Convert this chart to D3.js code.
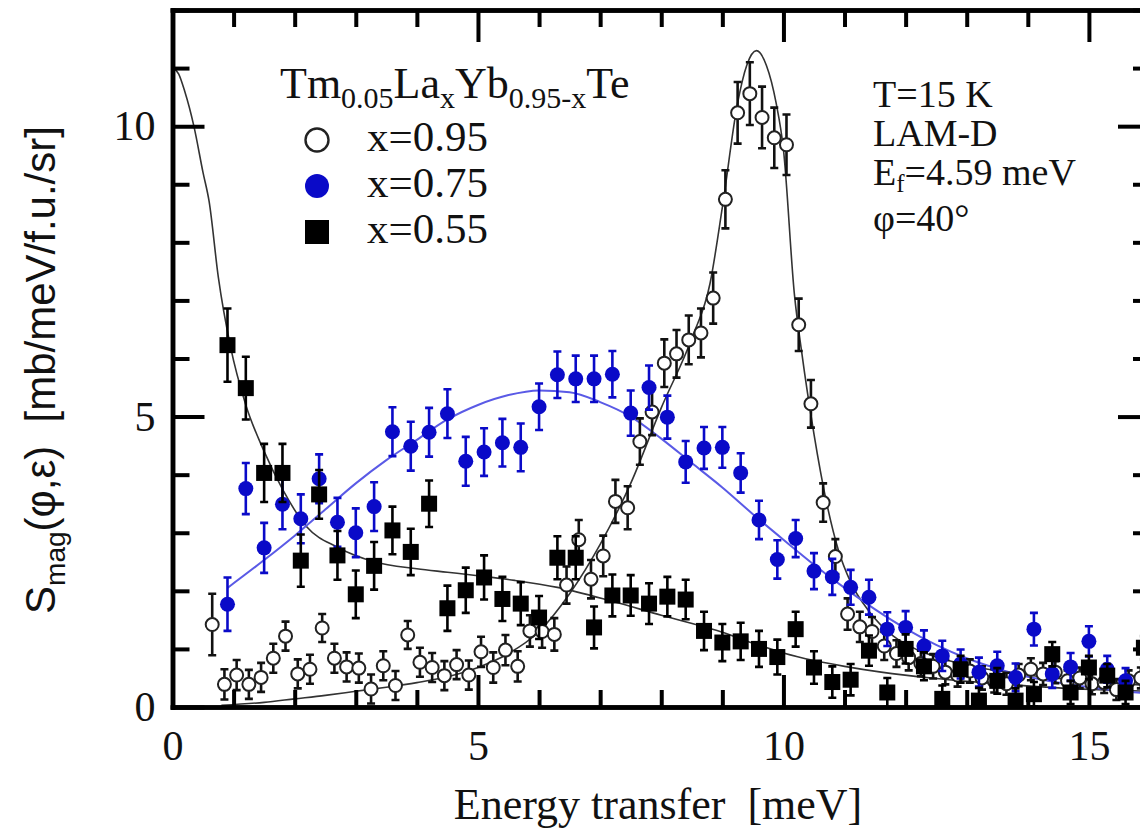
<!DOCTYPE html>
<html>
<head>
<meta charset="utf-8">
<script src="https://cdn.jsdelivr.net/npm/d3@7/dist/d3.min.js"></script>
<style>
  body { margin: 0; background: #fff; }
  text { font-family: "Liberation Serif", "Times New Roman", serif; fill: #111; }
</style>
</head>
<body>
<div id="chart"></div>
<script>
// Tm0.05LaxYb0.95-xTe, S_mag vs energy transfer (LAM-D, T=15 K)

// x=0.95 (open circles)
var circX = [0.65, 0.85, 1.05, 1.25, 1.45, 1.65, 1.85, 2.05, 2.25, 2.45,
             2.65, 2.85, 3.05, 3.25, 3.45, 3.65, 3.85, 4.05, 4.25, 4.45,
             4.65, 4.85, 5.05, 5.25, 5.45, 5.65, 5.85, 6.05, 6.25, 6.45,
             6.65, 6.85, 7.05, 7.25, 7.45, 7.65, 7.85, 8.05, 8.25, 8.45,
             8.65, 8.85, 9.05, 9.25, 9.45, 9.65, 9.85, 10.05, 10.25, 10.45,
             10.65, 10.85, 11.05, 11.25, 11.45, 11.65, 11.85, 12.05, 12.25, 12.45,
             12.65, 12.85, 13.05, 13.25, 13.45, 13.65, 13.85, 14.05, 14.25, 14.45,
             14.65, 14.85, 15.05, 15.25, 15.45, 15.65, 15.85];
var circY = [1.42, 0.39, 0.55, 0.39, 0.51, 0.84, 1.22, 0.57, 0.65, 1.36,
             0.84, 0.69, 0.67, 0.31, 0.71, 0.37, 1.24, 0.77, 0.68, 0.54,
             0.73, 0.55, 0.95, 0.68, 0.98, 0.70, 1.31, 1.30, 1.25, 2.10,
             2.88, 2.20, 2.60, 3.54, 3.43, 4.57, 5.08, 5.92, 6.08, 6.32,
             6.44, 7.04, 8.74, 10.23, 10.56, 10.15, 9.80, 9.68, 6.58, 5.22,
             3.52, 2.59, 1.60, 1.38, 1.30, 1.05, 0.92, 0.85, 0.75, 0.70,
             0.60, 0.55, 0.62, 0.50, 0.45, 0.40, 0.55, 0.65, 0.57, 0.60,
             0.45, 0.50, 0.40, 0.42, 0.30, 0.45, 0.50];
var circErr = [0.53, 0.26, 0.26, 0.25, 0.25, 0.25, 0.25, 0.25, 0.25, 0.24,
               0.25, 0.25, 0.25, 0.25, 0.25, 0.25, 0.24, 0.25, 0.25, 0.25,
               0.25, 0.25, 0.26, 0.26, 0.26, 0.26, 0.27, 0.28, 0.28, 0.32,
               0.34, 0.33, 0.35, 0.37, 0.37, 0.40, 0.40, 0.41, 0.41, 0.42,
               0.42, 0.44, 0.50, 0.53, 0.54, 0.53, 0.52, 0.52, 0.45, 0.41,
               0.33, 0.30, 0.27, 0.26, 0.25, 0.24, 0.23, 0.22, 0.22, 0.21,
               0.21, 0.20, 0.20, 0.20, 0.20, 0.19, 0.19, 0.19, 0.19, 0.19,
               0.18, 0.18, 0.18, 0.18, 0.18, 0.18, 0.18];

// x=0.75 (blue filled circles)
var blueX = [0.9, 1.2, 1.5, 1.8, 2.1, 2.4, 2.7, 3.0, 3.3, 3.6,
             3.9, 4.2, 4.5, 4.8, 5.1, 5.4, 5.7, 6.0, 6.3, 6.6,
             6.9, 7.2, 7.5, 7.8, 8.1, 8.4, 8.7, 9.0, 9.3, 9.6,
             9.9, 10.2, 10.5, 10.8, 11.1, 11.4, 11.7, 12.0, 12.3, 12.6,
             12.9, 13.2, 13.5, 13.8, 14.1, 14.4, 14.7, 15.0, 15.3, 15.6];
var blueY = [1.77, 3.76, 2.74, 3.49, 3.24, 3.93, 3.18, 3.00, 3.45, 4.74,
             4.49, 4.73, 5.05, 4.23, 4.39, 4.55, 4.47, 5.17, 5.72, 5.65,
             5.65, 5.73, 5.06, 5.50, 4.99, 4.22, 4.46, 4.47, 4.03, 3.22,
             2.54, 2.90, 2.34, 2.24, 2.06, 1.89, 1.34, 1.37, 1.05, 0.88,
             0.74, 0.60, 0.71, 0.51, 1.34, 0.57, 0.69, 1.13, 0.65, 0.45];
var blueErr = [0.46, 0.44, 0.43, 0.43, 0.42, 0.42, 0.42, 0.42, 0.42, 0.42,
               0.42, 0.42, 0.42, 0.42, 0.41, 0.41, 0.41, 0.40, 0.40, 0.40,
               0.40, 0.40, 0.39, 0.38, 0.37, 0.36, 0.36, 0.35, 0.34, 0.33,
               0.33, 0.32, 0.31, 0.31, 0.30, 0.30, 0.29, 0.28, 0.27, 0.26,
               0.25, 0.25, 0.24, 0.24, 0.28, 0.24, 0.24, 0.26, 0.23, 0.22];

// x=0.55 (black squares)
var sqX = [0.9, 1.2, 1.5, 1.8, 2.1, 2.4, 2.7, 3.0, 3.3, 3.6,
           3.9, 4.2, 4.5, 4.8, 5.1, 5.4, 5.7, 6.0, 6.3, 6.6,
           6.9, 7.2, 7.5, 7.8, 8.1, 8.4, 8.7, 9.0, 9.3, 9.6,
           9.9, 10.2, 10.5, 10.8, 11.1, 11.4, 11.7, 12.0, 12.3, 12.6,
           12.9, 13.2, 13.5, 13.8, 14.1, 14.4, 14.7, 15.0, 15.3, 15.6, 15.9];
var sqY = [6.23, 5.49, 4.03, 4.03, 2.52, 3.66, 2.61, 1.94, 2.43, 3.04,
           2.67, 3.50, 1.70, 2.01, 2.23, 1.86, 1.78, 1.54, 2.57, 2.57,
           1.37, 1.92, 1.92, 1.78, 1.90, 1.85, 1.31, 1.11, 1.13, 1.00,
           0.86, 1.34, 0.68, 0.43, 0.47, 0.97, 0.25, 1.00, 0.70, 0.14,
           0.65, 0.11, 0.45, 0.11, 0.22, 0.91, 0.25, 0.68, 0.54, 0.25, 1.02];
var sqErr = [0.63, 0.54, 0.50, 0.50, 0.45, 0.42, 0.42, 0.41, 0.41, 0.41,
             0.40, 0.40, 0.39, 0.39, 0.38, 0.38, 0.37, 0.37, 0.37, 0.37,
             0.36, 0.36, 0.35, 0.35, 0.34, 0.34, 0.33, 0.32, 0.32, 0.31,
             0.30, 0.30, 0.28, 0.27, 0.27, 0.26, 0.25, 0.25, 0.24, 0.23,
             0.23, 0.22, 0.22, 0.21, 0.21, 0.21, 0.20, 0.20, 0.20, 0.20, 0.20];

// fitted curves
var fitCircX = [0.8, 1.5, 2.0, 2.5, 3.0, 3.5, 4.0, 4.5, 5.0, 5.5,
                6.0, 6.5, 7.0, 7.5, 8.0, 8.5, 8.8, 9.0, 9.25, 9.4,
                9.56, 9.72, 9.88, 10.0, 10.18, 10.3, 10.5, 10.7, 10.9, 11.1,
                11.4, 11.8, 12.2, 12.7, 13.2, 14.0, 15.0, 16.0];
var fitCircY = [0.03, 0.08, 0.14, 0.20, 0.27, 0.34, 0.42, 0.52, 0.68, 0.92,
                1.30, 1.95, 2.80, 3.85, 5.15, 6.35, 7.30, 8.60, 10.40, 11.05,
                11.30, 11.05, 10.40, 9.60, 7.10, 6.10, 4.70, 3.55, 2.70, 2.15,
                1.65, 1.22, 0.98, 0.80, 0.68, 0.55, 0.44, 0.37];

var fitBlueX = [0.9, 1.5, 2.0, 2.5, 3.0, 3.5, 4.0, 4.5, 5.0, 5.5,
                6.0, 6.5, 7.0, 7.5, 8.0, 8.5, 9.0, 9.5, 10.0, 10.5,
                11.0, 11.5, 12.0, 12.5, 13.0, 13.5, 14.0, 14.5, 15.0, 15.5, 16.0];
var fitBlueY = [2.05, 2.53, 2.95, 3.40, 3.85, 4.25, 4.60, 4.95, 5.20, 5.37,
                5.45, 5.42, 5.25, 5.00, 4.62, 4.20, 3.78, 3.32, 2.88, 2.45,
                2.05, 1.68, 1.35, 1.07, 0.84, 0.66, 0.52, 0.42, 0.34, 0.28, 0.23];

var fitSqX = [0.0, 0.1, 0.2, 0.35, 0.5, 0.6, 0.75, 0.95, 1.2, 1.5,
              1.8, 2.2, 2.7, 3.3, 4.0, 4.5, 5.0, 5.6, 6.3, 7.2,
              8.0, 8.9, 9.5, 10.0, 10.5, 11.0, 11.6, 12.5, 13.5, 14.5, 16.0];
var fitSqY = [11.0, 10.9, 10.6, 10.0, 9.2, 8.7, 7.4, 6.2, 5.2, 4.4,
              3.75, 3.10, 2.75, 2.50, 2.38, 2.32, 2.26, 2.18, 2.06, 1.82,
              1.58, 1.32, 1.10, 0.93, 0.80, 0.70, 0.60, 0.49, 0.40, 0.33, 0.27];

// ticks
var xMajorTicks = [0, 5, 10, 15];
var xMinorTicks = [0, 1, 2, 3, 4, 6, 7, 8, 9, 11, 12, 13, 14, 16];
var yMajorTicks = [0, 5, 10];
var yMinorTicks = [1, 2, 3, 4, 6, 7, 8, 9, 11, 12];

var legendLabels = ["x=0.95", "x=0.75", "x=0.55"];
var infoLines = ["T=15 K", "LAM-D", "E", "\u03c6=40\u00b0"];

var blue = "#0a0ac8";
var blueLine = "#5a5ae6";

var svgWidth = 1140;
var svgHeight = 831;

var svg = d3.select("#chart")
    .append("svg")
    .attr("width", svgWidth)
    .attr("height", svgHeight);

svg.append("rect").attr("width", svgWidth).attr("height", svgHeight).attr("fill", "#fff");

var x = d3.scaleLinear().domain([0, 16]).range([172.5, 1150]);
var y = d3.scaleLinear().domain([0, 12]).range([707, 10]);

function zip(xs, ys, es) {
    return xs.map(function(v, i) { return { x: v, y: ys[i], e: es ? es[i] : 0 }; });
}

var circData = zip(circX, circY, circErr);
var blueData = zip(blueX, blueY, blueErr);
var sqData = zip(sqX, sqY, sqErr);

svg.append("defs").append("clipPath").attr("id", "plotClip")
    .append("rect")
    .attr("x", x(0)).attr("y", y(12))
    .attr("width", x(16) - x(0)).attr("height", y(0) - y(12));

var plot = svg.append("g").attr("clip-path", "url(#plotClip)");

// fit curves
var line = d3.line()
    .x(function(d) { return x(d.x); })
    .y(function(d) { return y(d.y); })
    .curve(d3.curveMonotoneX);

plot.append("path").datum(zip(fitSqX, fitSqY))
    .attr("d", line).attr("fill", "none").attr("stroke", "#333").attr("stroke-width", 1.6);
plot.append("path").datum(zip(fitCircX, fitCircY))
    .attr("d", line).attr("fill", "none").attr("stroke", "#333").attr("stroke-width", 1.6);
plot.append("path").datum(zip(fitBlueX, fitBlueY))
    .attr("d", line).attr("fill", "none").attr("stroke", blueLine).attr("stroke-width", 2);

// error bars
function errPath(d) {
    var cx = x(d.x), y1 = y(d.y + d.e), y2 = y(d.y - d.e), c = 4;
    return "M" + (cx - c) + "," + y1 + "H" + (cx + c) +
           "M" + cx + "," + y1 + "V" + y2 +
           "M" + (cx - c) + "," + y2 + "H" + (cx + c);
}

function drawErr(data, color) {
    plot.append("g").selectAll("path")
        .data(data).enter().append("path")
        .attr("d", errPath)
        .attr("fill", "none")
        .attr("stroke", color)
        .attr("stroke-width", 2.6);
}

// open circles
drawErr(circData, "#111");
plot.append("g").selectAll("circle")
    .data(circData).enter().append("circle")
    .attr("cx", function(d) { return x(d.x); })
    .attr("cy", function(d) { return y(d.y); })
    .attr("r", 6.5)
    .attr("fill", "#fff")
    .attr("stroke", "#222")
    .attr("stroke-width", 2);

// blue
drawErr(blueData, blue);
plot.append("g").selectAll("circle")
    .data(blueData).enter().append("circle")
    .attr("cx", function(d) { return x(d.x); })
    .attr("cy", function(d) { return y(d.y); })
    .attr("r", 7.5)
    .attr("fill", blue);

// squares
drawErr(sqData, "#000");
plot.append("g").selectAll("rect")
    .data(sqData).enter().append("rect")
    .attr("x", function(d) { return x(d.x) - 8; })
    .attr("y", function(d) { return y(d.y) - 8; })
    .attr("width", 16)
    .attr("height", 16)
    .attr("fill", "#000");

// axes (ticks on all sides, pointing in)
function styleAxis(g) {
    g.attr("font-family", null).attr("font-size", null);
    g.select(".domain").attr("stroke", "#000").attr("stroke-width", 4.5).attr("stroke-linecap", "square");
    g.selectAll(".tick line").attr("stroke", "#000").attr("stroke-width", 4);
    g.selectAll(".tick text").style("font-size", "42px").attr("fill", "#111");
}

svg.append("g").attr("transform", "translate(0," + y(0) + ")")
    .call(d3.axisBottom(x).tickValues(xMinorTicks).tickSize(-17).tickSizeOuter(0).tickFormat(""))
    .call(styleAxis);
svg.append("g").attr("transform", "translate(0," + y(0) + ")")
    .call(d3.axisBottom(x).tickValues(xMajorTicks).tickSize(-32).tickSizeOuter(0).tickPadding(23).tickFormat(d3.format("d")))
    .call(styleAxis);
svg.append("g").attr("transform", "translate(0," + y(12) + ")")
    .call(d3.axisTop(x).tickValues(xMinorTicks).tickSize(-17).tickSizeOuter(0).tickFormat(""))
    .call(styleAxis);
svg.append("g").attr("transform", "translate(0," + y(12) + ")")
    .call(d3.axisTop(x).tickValues(xMajorTicks).tickSize(-32).tickSizeOuter(0).tickFormat(""))
    .call(styleAxis);
svg.append("g").attr("transform", "translate(" + x(0) + ",0)")
    .call(d3.axisLeft(y).tickValues(yMinorTicks).tickSize(-17).tickSizeOuter(0).tickFormat(""))
    .call(styleAxis);
svg.append("g").attr("transform", "translate(" + x(0) + ",0)")
    .call(d3.axisLeft(y).tickValues(yMajorTicks).tickSize(-32).tickSizeOuter(0).tickPadding(17).tickFormat(d3.format("d")))
    .call(styleAxis);
svg.append("g").attr("transform", "translate(" + x(16) + ",0)")
    .call(d3.axisRight(y).tickValues(yMinorTicks).tickSize(-17).tickSizeOuter(0).tickFormat(""))
    .call(styleAxis);
svg.append("g").attr("transform", "translate(" + x(16) + ",0)")
    .call(d3.axisRight(y).tickValues(yMajorTicks).tickSize(-32).tickSizeOuter(0).tickFormat(""))
    .call(styleAxis);

// axis titles (two spaces before the unit, as in the figure)
svg.append("text")
    .attr("x", 658).attr("y", 819)
    .attr("text-anchor", "middle")
    .style("font-size", "44px")
    .text("Energy transfer\u00a0 [meV]");

var yTitle = svg.append("text")
    .attr("transform", "translate(55,370) rotate(-90)")
    .attr("text-anchor", "middle")
    .style("font-family", "'Liberation Sans', Arial, sans-serif")
    .style("font-size", "42px");
yTitle.append("tspan").text("S");
yTitle.append("tspan").attr("dy", 10).style("font-size", "28px").text("mag");
yTitle.append("tspan").attr("dy", -10).text("(\u03c6,\u03b5)\u00a0 [mb/meV/f.u./sr]");

// legend
var title = svg.append("text").attr("x", 280).attr("y", 98).style("font-size", "44px");
title.append("tspan").text("Tm");
title.append("tspan").attr("dy", 10).style("font-size", "30px").text("0.05");
title.append("tspan").attr("dy", -10).text("La");
title.append("tspan").attr("dy", 10).style("font-size", "30px").text("x");
title.append("tspan").attr("dy", -10).text("Yb");
title.append("tspan").attr("dy", 10).style("font-size", "30px").text("0.95-x");
title.append("tspan").attr("dy", -10).text("Te");

var legendY = [140, 186, 232];
svg.append("circle").attr("cx", 317).attr("cy", legendY[0]).attr("r", 11.5)
    .attr("fill", "#fff").attr("stroke", "#222").attr("stroke-width", 2.4);
svg.append("circle").attr("cx", 317).attr("cy", legendY[1]).attr("r", 12)
    .attr("fill", blue);
svg.append("rect").attr("x", 305).attr("y", legendY[2] - 12).attr("width", 24).attr("height", 24)
    .attr("fill", "#000");
svg.append("g").selectAll("text")
    .data(legendLabels).enter().append("text")
    .attr("x", 367)
    .attr("y", function(d, i) { return legendY[i] + 11; })
    .style("font-size", "43px")
    .text(function(d) { return d; });

// run info
var infoY = [107, 146, 185, 231];
var info = svg.append("g").style("font-size", "38px");
info.append("text").attr("x", 873).attr("y", infoY[0]).text(infoLines[0]);
info.append("text").attr("x", 873).attr("y", infoY[1]).text(infoLines[1]);
var ef = info.append("text").attr("x", 873).attr("y", infoY[2]);
ef.append("tspan").text(infoLines[2]);
ef.append("tspan").attr("dy", 7).style("font-size", "25px").text("f");
ef.append("tspan").attr("dy", -7).text("=4.59 meV");
info.append("text").attr("x", 873).attr("y", infoY[3]).text(infoLines[3]);
</script>
</body>
</html>
